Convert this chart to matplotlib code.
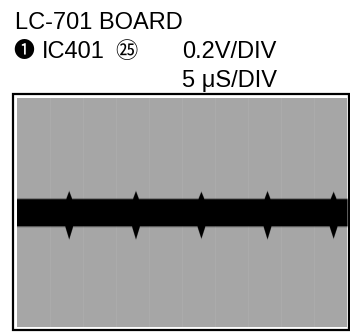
import numpy as np
import matplotlib
matplotlib.use("Agg")
import matplotlib.pyplot as plt
from matplotlib.patches import Rectangle

# ---- data ----
title_text = "LC-701 BOARD"
probe_mark = "\u2776"
probe_text = "IC401"
pin_mark = "\u3255"
scale_labels = ["0.2V/DIV", "5 \u03bcS/DIV"]
time_range_us = [0.0, 50.0]          # 10 div x 5 us
volt_range = [-0.8, 0.8]             # 8 div x 0.2 V
band_half_width = 0.094              # V
spike_times_us = [7.9, 18.0, 27.9, 37.9, 47.9]
spike_up_amp = [0.055, 0.055, 0.05, 0.055, 0.05]      # V above band
spike_down_amp = [0.09, 0.09, 0.085, 0.09, 0.085]     # V below band
spike_half_width_up = 0.45    # us
spike_half_width_down = 0.6   # us

W, H = 350, 333
fig = plt.figure(figsize=(W / 100, H / 100), dpi=100)
fig.patch.set_facecolor("white")

fam = ["Liberation Sans", "DejaVu Sans", "Noto Sans CJK JP"]
cjk = ["Noto Sans CJK JP", "DejaVu Sans"]

def fx(px):
    return px / W

def fy(py):
    return 1 - py / H

fs = 17
fig.text(fx(15), fy(29), title_text, fontsize=fs, family=fam, va="baseline", ha="left")
fig.text(fx(13), fy(57), probe_mark, fontsize=15, family=cjk, va="baseline", ha="left")
fig.text(fx(42), fy(58), probe_text, fontsize=fs, family=fam, va="baseline", ha="left")
fig.text(fx(115), fy(58), pin_mark, fontsize=16, family=cjk, va="baseline", ha="left")
fig.text(fx(182), fy(58), scale_labels[0], fontsize=fs, family=fam, va="baseline", ha="left")
fig.text(fx(182), fy(87), scale_labels[1], fontsize=fs, family=fam, va="baseline", ha="left")

# outer border
fig.patches.append(Rectangle((fx(13), fy(330)), fx(349) - fx(13), fy(94) - fy(330),
                             transform=fig.transFigure, fill=False, edgecolor="black",
                             linewidth=1.6, zorder=5))

ax = fig.add_axes([fx(16.5), fy(327), fx(347) - fx(16.5), fy(97.5) - fy(327)])
ax.set_facecolor("#a6a6a6")
for s in ax.spines.values():
    s.set_visible(False)
ax.set_xticks([])
ax.set_yticks([])
ax.set_xlim(*time_range_us)
ax.set_ylim(*volt_range)

# faint graticule
for xv in np.arange(5, 50, 5):
    ax.axvline(xv, color="#bdbdbd", lw=0.6, alpha=0.3, zorder=1)

# build envelope vertices from the spike data
up_t, up_v, dn_t, dn_v = [time_range_us[0]], [band_half_width], [time_range_us[0]], [-band_half_width]
for tc, au, ad in zip(spike_times_us, spike_up_amp, spike_down_amp):
    up_t += [tc - spike_half_width_up, tc, tc + spike_half_width_up]
    up_v += [band_half_width, band_half_width + au, band_half_width]
    dn_t += [tc - spike_half_width_down, tc, tc + spike_half_width_down]
    dn_v += [-band_half_width, -band_half_width - ad, -band_half_width]
up_t.append(time_range_us[1]); up_v.append(band_half_width)
dn_t.append(time_range_us[1]); dn_v.append(-band_half_width)

t = np.linspace(time_range_us[0], time_range_us[1], 3001)
upper = np.interp(t, up_t, up_v)
lower = np.interp(t, dn_t, dn_v)

# soft halo then solid band
ax.fill_between(t, lower - 0.008, upper + 0.008, color="#444444", alpha=0.5, lw=0, zorder=2)
ax.fill_between(t, lower, upper, color="black", lw=0, zorder=3)

fig.savefig("out.png", dpi=100, facecolor="white")
